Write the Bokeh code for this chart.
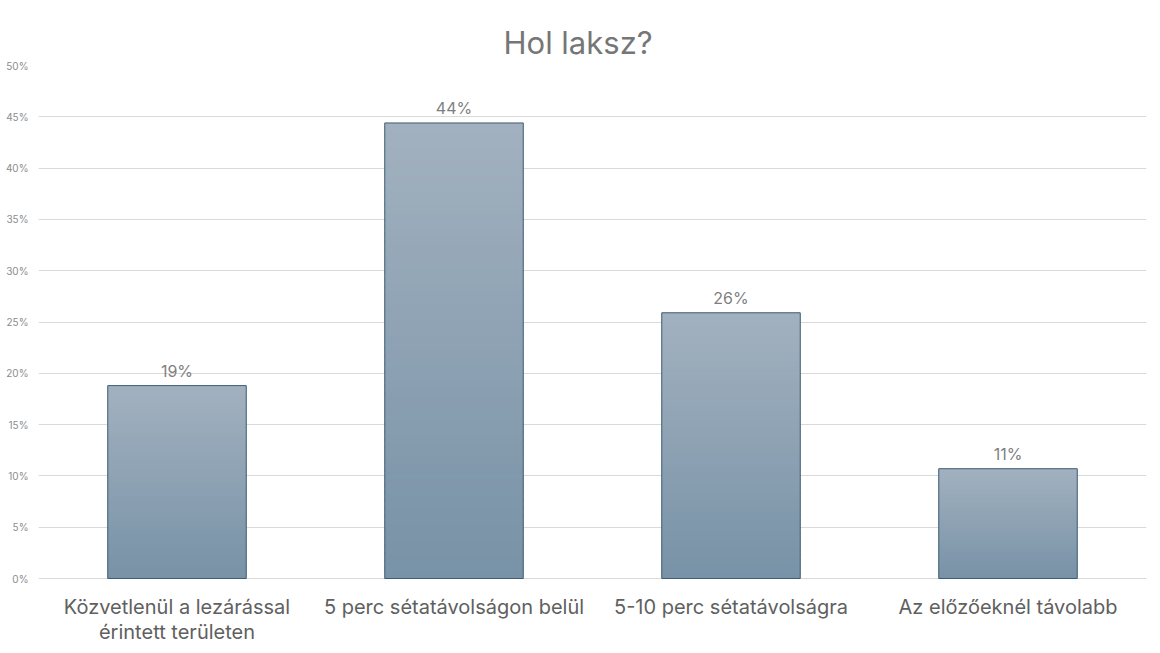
from bokeh.plotting import figure
from bokeh.models import ColumnDataSource, FixedTicker, NumeralTickFormatter, Range1d, FactorRange
from bokeh.embed import file_html
from bokeh.resources import INLINE
from bokeh.core.properties import value

categories = ["Közvetlenül a lezárással érintett területen",
              "5 perc sétatávolságon belül",
              "5-10 perc sétatávolságra",
              "Az előzőeknél távolabb"]
tick_first_lines = ["Közvetlenül a lezárással",
                    "5 perc sétatávolságon belül",
                    "5-10 perc sétatávolságra",
                    "Az előzőeknél távolabb"]
tick_second_lines = ["érintett területen", "", "", ""]
values = [0.188, 0.444, 0.259, 0.107]
y_ticks = [0, 0.05, 0.10, 0.15, 0.20, 0.25, 0.30, 0.35, 0.40, 0.45, 0.50]

FONT = "Inter"
Y_MAX = 0.5
PX_PLOT = 513      # pixel height of the 0..50% band
PX_BELOW = 67      # room below the baseline for category labels

p = figure(width=1150, height=645, x_range=FactorRange(*categories, range_padding=0),
           y_range=Range1d(-Y_MAX * PX_BELOW / PX_PLOT, Y_MAX), output_backend="svg",
           toolbar_location=None, min_border_left=38, min_border_right=4,
           min_border_top=65, min_border_bottom=0)
p.outline_line_color = None

p.title.text = "Hol laksz?"
p.title.align = "left"
p.title.offset = 465
p.title.text_font = FONT
p.title.text_font_size = "31px"
p.title.text_font_style = "normal"
p.title.text_color = "#767676"

# gradient bars: slices interpolated from dark bottom to light top
N = 60
bot_rgb = (0x78, 0x92, 0xA7)
top_rgb = (0xA2, 0xB1, 0xBF)
xs, bottoms, tops, colors = [], [], [], []
for c, v in zip(categories, values):
    for i in range(N):
        t = (i + 0.5) / N
        rgb = tuple(int(round(b + (tp - b) * t)) for b, tp in zip(bot_rgb, top_rgb))
        xs.append(c)
        bottoms.append(v * i / N)
        tops.append(v * min(i + 1.6, N) / N)
        colors.append("#%02x%02x%02x" % rgb)
p.vbar(x=xs, bottom=bottoms, top=tops, width=0.5, fill_color=colors, line_color=None)
p.vbar(x=categories, top=values, width=0.5, fill_alpha=0, line_color="#3d5b72", line_width=1)

labels = ["%d%%" % round(v * 100) for v in values]
src = ColumnDataSource(dict(x=categories, y=values, t=labels))
p.text(x="x", y="y", text="t", source=src, text_align="center", text_baseline="bottom",
       y_offset=-5, text_font=value(FONT), text_font_size="16px", text_color="#7f7f7f")

# category labels (two-line capable) drawn below the baseline
cx, cy, ct, coff = [], [], [], []
for c, l1, l2 in zip(categories, tick_first_lines, tick_second_lines):
    cx.append(c); cy.append(0); ct.append(l1); coff.append(28)
    if l2:
        cx.append(c); cy.append(0); ct.append(l2); coff.append(53)
csrc = ColumnDataSource(dict(x=cx, y=cy, t=ct, o=coff))
p.text(x="x", y="y", text="t", y_offset="o", source=csrc, text_align="center",
       text_baseline="middle", text_font=value(FONT), text_font_size="20px",
       text_color="#606060")

p.yaxis.ticker = FixedTicker(ticks=y_ticks)
p.yaxis.formatter = NumeralTickFormatter(format="0%")
p.yaxis.axis_line_color = None
p.yaxis.major_tick_line_color = None
p.yaxis.minor_tick_line_color = None
p.yaxis.major_tick_out = 0
p.yaxis.major_tick_in = 0
p.yaxis.minor_tick_out = 0
p.yaxis.minor_tick_in = 0
p.yaxis.major_label_text_font = FONT
p.yaxis.major_label_text_font_size = "10px"
p.yaxis.major_label_text_color = "#8c8c8c"
p.yaxis.major_label_standoff = 10

p.xaxis.visible = False

p.xgrid.grid_line_color = None
p.ygrid.grid_line_color = "#d9d9d9"
p.ygrid.ticker = FixedTicker(ticks=y_ticks)

open("out.html", "w").write(file_html(p, INLINE))
